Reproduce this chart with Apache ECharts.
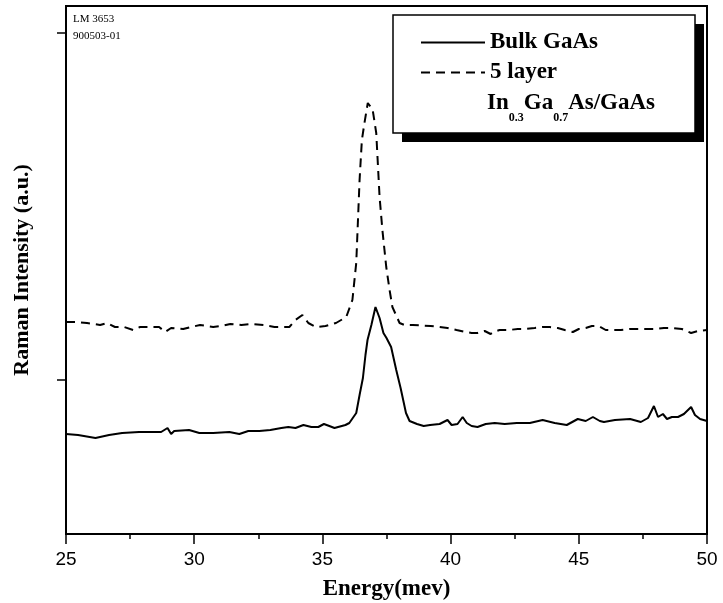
<!DOCTYPE html>
<html>
<head>
<meta charset="utf-8">
<script src="https://cdn.jsdelivr.net/npm/echarts@6/dist/echarts.min.js"></script>
<style>
  html, body { margin: 0; padding: 0; background: #fff; }
  #chart { width: 723px; height: 603px; }
</style>
</head>
<body>
<div id="chart"></div>
<script>
// Energy (meV) and intensity (a.u.)
const bulkEnergy = [25.00, 25.47, 26.15, 26.68, 27.19, 27.85, 28.71, 28.96, 29.10, 29.22, 29.80, 30.20, 30.74, 31.37, 31.76, 32.11, 32.54, 32.97, 33.40, 33.67, 33.95, 34.26, 34.57, 34.84, 35.06, 35.27, 35.47, 35.90, 36.05, 36.32, 36.45, 36.58, 36.68, 36.76, 36.91, 37.07, 37.23, 37.38, 37.50, 37.68, 37.88, 38.05, 38.26, 38.40, 38.69, 38.95, 39.20, 39.57, 39.88, 40.04, 40.27, 40.47, 40.63, 40.82, 41.05, 41.37, 41.72, 42.11, 42.58, 43.09, 43.59, 44.06, 44.53, 44.96, 45.27, 45.55, 45.82, 45.98, 46.41, 47.00, 47.42, 47.70, 47.93, 48.09, 48.28, 48.44, 48.63, 48.87, 49.10, 49.38, 49.53, 49.73, 50.00]
const bulkIntensity = [109, 108, 105, 108, 110, 111, 111, 115, 109, 112, 113, 110, 110, 111, 109, 112, 112, 113, 115, 116, 115, 118, 116, 116, 119, 117, 115, 118, 120, 130, 148, 165, 188, 203, 218, 236, 225, 210, 205, 196, 173, 155, 130, 122, 119, 117, 118, 119, 123, 118, 119, 126, 120, 117, 116, 119, 120, 119, 120, 120, 123, 120, 118, 124, 122, 126, 122, 121, 123, 124, 121, 125, 137, 126, 129, 124, 126, 126, 129, 136, 128, 124, 122]

const layerEnergy = [25.00, 25.43, 25.82, 26.33, 26.60, 26.91, 27.27, 27.62, 27.89, 28.20, 28.63, 28.87, 29.10, 29.57, 29.88, 30.23, 30.74, 31.05, 31.41, 31.84, 32.27, 32.70, 33.13, 33.40, 33.71, 33.95, 34.22, 34.45, 34.75, 35.12, 35.53, 35.93, 36.17, 36.32, 36.45, 36.54, 36.64, 36.77, 36.86, 36.95, 37.10, 37.23, 37.34, 37.49, 37.62, 37.73, 38.01, 38.20, 38.52, 39.22, 39.57, 39.88, 40.23, 40.59, 40.82, 41.05, 41.33, 41.56, 41.68, 41.91, 42.27, 42.62, 42.93, 43.28, 43.59, 43.87, 44.18, 44.45, 44.77, 45.00, 45.27, 45.51, 45.78, 46.05, 46.33, 46.64, 46.99, 47.34, 47.70, 48.01, 48.32, 48.67, 49.02, 49.38, 49.65, 50.00]
const layerIntensity = [221, 221, 220, 218, 220, 216, 216, 213, 216, 216, 216, 211, 215, 214, 216, 218, 216, 217, 219, 218, 219, 218, 216, 216, 216, 223, 228, 220, 216, 217, 220, 226, 243, 280, 363, 403, 420, 440, 437, 435, 410, 346, 313, 276, 253, 236, 220, 218, 218, 217, 216, 215, 213, 211, 210, 210, 212, 209, 211, 213, 213, 214, 214, 215, 216, 216, 215, 213, 211, 214, 215, 217, 217, 213, 213, 213, 214, 214, 214, 214, 215, 215, 214, 210, 212, 213]

const xTicks = [25, 30, 35, 40, 45, 50]
const yTicks = [163, 510]

const seriesNames = ['Bulk GaAs', '5 layer']
const legendExtra = '{b|In}{s|0.3}{b|Ga}{s|0.7}{b|As/GaAs}'
const sampleTag = 'LM 3653\n900503-01'

const zip = (xs, ys) => xs.map((x, i) => [x, ys[i]])

const serif = '"Liberation Serif", "DejaVu Serif", serif'
const sans = '"Liberation Sans", Arial, sans-serif'

var myChart = echarts.init(document.getElementById('chart'))

var option = {
  backgroundColor: '#fff',
  animation: false,
  grid: {
    left: 66, right: 16, top: 6, bottom: 69,
    outerBoundsMode: 'none',
    containLabel: false,
    show: true, borderColor: '#000', borderWidth: 2
  },
  xAxis: {
    type: 'value',
    min: 25, max: 50, interval: 5,
    name: 'Energy(mev)',
    nameLocation: 'middle',
    nameGap: 44,
    nameTextStyle: { fontFamily: serif, fontWeight: 'bold', fontSize: 23, color: '#000' },
    axisLine: { show: true, onZero: false, lineStyle: { color: '#000', width: 2 } },
    axisTick: { show: true, inside: false, length: 10, lineStyle: { color: '#000', width: 1.5 } },
    minorTick: { show: true, splitNumber: 2, length: 5, lineStyle: { color: '#000', width: 1.5 } },
    axisLabel: { fontFamily: sans, fontSize: 19, color: '#000', margin: 16, customValues: xTicks },
    splitLine: { show: false }
  },
  yAxis: {
    type: 'value',
    min: 9, max: 537,
    name: 'Raman Intensity (a.u.)',
    nameLocation: 'middle',
    nameGap: 33,
    nameTextStyle: { fontFamily: serif, fontWeight: 'bold', fontSize: 22, color: '#000' },
    axisLine: { show: true, onZero: false, lineStyle: { color: '#000', width: 2 } },
    axisTick: { show: true, inside: false, length: 9, customValues: yTicks, lineStyle: { color: '#000', width: 1.5 } },
    axisLabel: { show: false },
    splitLine: { show: false }
  },
  legend: {
    data: seriesNames,
    orient: 'vertical',
    left: 420, top: 31,
    itemWidth: 64, itemHeight: 14,
    itemGap: 7,
    padding: 0,
    itemStyle: { opacity: 0 },
    textStyle: { fontFamily: serif, fontWeight: 'bold', fontSize: 23, color: '#000', lineHeight: 23 },
    z: 10
  },
  graphic: [
    {
      type: 'rect', z: 4,
      shape: { x: 402, y: 24, width: 302, height: 118 },
      style: { fill: '#000' }
    },
    {
      type: 'rect', z: 5,
      shape: { x: 393, y: 15, width: 302, height: 118 },
      style: { fill: '#fff', stroke: '#000', lineWidth: 1.5 }
    },
    {
      type: 'text', z: 11, left: 487, top: 92,
      style: {
        text: legendExtra,
        rich: {
          b: { fontFamily: serif, fontWeight: 'bold', fontSize: 23, fill: '#000', lineHeight: 26, verticalAlign: 'top' },
          s: { fontFamily: serif, fontWeight: 'bold', fontSize: 12, fill: '#000', lineHeight: 26, verticalAlign: 'top', padding: [20, 0, 0, 0] }
        }
      }
    },
    {
      type: 'text', z: 11, left: 73, top: 11,
      style: { text: sampleTag, fontFamily: serif, fontSize: 11, lineHeight: 17, fill: '#000' }
    }
  ],
  series: [
    {
      name: seriesNames[0],
      type: 'line',
      data: zip(bulkEnergy, bulkIntensity),
      showSymbol: false, symbol: 'none',
      lineStyle: { color: '#000', width: 2, type: 'solid' },
      itemStyle: { color: '#000' }
    },
    {
      name: seriesNames[1],
      type: 'line',
      data: zip(layerEnergy, layerIntensity),
      showSymbol: false, symbol: 'none',
      lineStyle: { color: '#000', width: 2, type: [9, 6] },
      itemStyle: { color: '#000' }
    }
  ]
}

myChart.setOption(option)
</script>
</body>
</html>
